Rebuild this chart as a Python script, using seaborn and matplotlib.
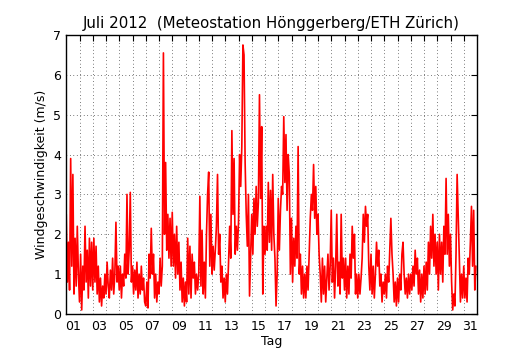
import numpy as np
import pandas as pd
import matplotlib
matplotlib.use("Agg")
import matplotlib.pyplot as plt
import seaborn as sns
from matplotlib.ticker import FixedLocator, NullFormatter, FixedFormatter

# wind speed (m/s), 2-hourly readings per day (00h, 02h, ..., 22h)
jul01 = [2.5, 0.8, 1.8, 0.6, 3.9, 1.2, 3.5, 0.5, 1.9, 0.7, 2.2, 1.0]
jul02 = [0.3, 1.5, 0.1, 1.2, 0.6, 2.2, 0.8, 1.6, 0.4, 1.9, 0.7, 1.8]
jul03 = [0.6, 1.9, 0.8, 1.7, 0.5, 1.2, 0.3, 0.9, 0.2, 0.7, 0.4, 1.0]
jul04 = [0.5, 1.3, 0.7, 0.4, 1.1, 0.6, 1.4, 0.5, 1.0, 2.3, 0.8, 1.2]
jul05 = [0.6, 1.2, 0.4, 1.0, 0.7, 1.5, 0.9, 3.0, 1.0, 1.6, 3.05, 0.8]
jul06 = [1.2, 0.5, 1.1, 0.6, 1.3, 0.4, 1.0, 0.5, 1.2, 0.6, 0.9, 0.3]
jul07 = [0.2, 0.8, 0.15, 1.5, 0.9, 2.15, 1.0, 1.5, 0.4, 1.0, 0.3, 0.8]
jul08 = [0.5, 1.4, 0.7, 1.2, 6.55, 2.0, 3.8, 1.6, 2.5, 1.4, 2.4, 1.2]
jul09 = [2.55, 1.2, 2.0, 0.9, 2.2, 1.0, 1.8, 0.6, 1.3, 0.3, 0.9, 0.2]
jul10 = [0.8, 0.3, 1.9, 0.5, 1.7, 0.4, 1.5, 0.9, 1.3, 0.5, 1.0, 0.6]
jul11 = [1.0, 2.95, 0.7, 2.1, 0.5, 1.3, 0.4, 2.0, 3.0, 3.56, 1.2, 2.5]
jul12 = [1.0, 1.7, 1.1, 1.6, 2.2, 3.5, 1.5, 2.0, 0.8, 1.2, 0.4, 0.9]
jul13 = [0.3, 1.0, 0.5, 1.3, 2.2, 1.4, 4.6, 2.5, 3.9, 1.5, 2.2, 1.6]
jul14 = [2.3, 4.0, 3.2, 4.2, 6.75, 6.5, 3.8, 2.5, 1.7, 3.0, 0.45, 1.5]
jul15 = [2.5, 1.5, 2.9, 2.0, 3.2, 2.2, 2.8, 5.5, 2.9, 4.7, 0.5, 2.2]
jul16 = [1.5, 2.2, 1.6, 3.3, 1.8, 3.1, 1.6, 3.5, 2.0, 1.4, 0.2, 1.0]
jul17 = [2.9, 1.6, 2.6, 3.2, 3.0, 4.95, 3.3, 4.5, 2.6, 4.0, 3.5, 1.0]
jul18 = [2.4, 0.8, 1.9, 1.2, 2.2, 1.4, 4.2, 1.0, 1.5, 0.5, 1.2, 0.4]
jul19 = [1.0, 0.4, 1.2, 0.6, 1.5, 2.4, 3.0, 2.6, 3.75, 2.4, 3.2, 2.0]
jul20 = [2.5, 1.5, 1.0, 0.3, 1.4, 0.5, 1.2, 0.3, 0.9, 1.5, 0.6, 1.2]
jul21 = [2.6, 0.8, 1.4, 0.4, 1.2, 2.5, 0.7, 1.3, 0.5, 2.5, 0.9, 1.4]
jul22 = [0.6, 1.4, 0.4, 1.2, 0.5, 1.5, 0.9, 2.2, 1.4, 2.0, 0.5, 1.0]
jul23 = [0.4, 1.0, 0.5, 0.9, 1.4, 2.5, 1.8, 2.7, 2.2, 2.5, 1.2, 0.6]
jul24 = [1.5, 0.5, 1.2, 0.4, 1.0, 1.8, 1.2, 1.6, 0.7, 1.0, 0.3, 0.8]
jul25 = [0.5, 1.0, 0.4, 1.2, 0.8, 1.6, 2.4, 1.5, 1.0, 0.3, 0.8, 0.2]
jul26 = [0.9, 0.3, 1.0, 0.6, 1.5, 1.8, 1.0, 0.5, 0.9, 0.4, 1.0, 0.5]
jul27 = [1.0, 0.6, 1.2, 0.7, 1.6, 1.0, 1.4, 0.5, 1.1, 0.3, 1.0, 0.4]
jul28 = [1.2, 0.5, 1.3, 0.6, 1.8, 1.0, 2.2, 1.4, 2.5, 1.2, 2.0, 1.0]
jul29 = [1.8, 0.6, 2.0, 1.0, 1.8, 0.8, 2.2, 1.5, 3.4, 1.5, 2.5, 1.2]
jul30 = [2.0, 0.8, 0.1, 0.5, 0.2, 1.5, 3.5, 2.5, 1.4, 0.3, 1.0, 0.4]
jul31 = [1.2, 0.4, 0.9, 0.3, 1.4, 1.0, 1.8, 2.7, 1.2, 2.6, 0.6, 1.2]

hours = list(range(0, 24, 2))
day_labels = ["01", "03", "05", "07", "09", "11", "13", "15",
              "17", "19", "21", "23", "25", "27", "29", "31"]

days = [jul01, jul02, jul03, jul04, jul05, jul06, jul07, jul08, jul09, jul10,
        jul11, jul12, jul13, jul14, jul15, jul16, jul17, jul18, jul19, jul20,
        jul21, jul22, jul23, jul24, jul25, jul26, jul27, jul28, jul29, jul30, jul31]

rows = []
for d, vals in enumerate(days):
    for h, v in zip(hours, vals):
        rows.append({"t": d + h / 24.0, "wind": v})
df = pd.DataFrame(rows)

sns.set_style("white")
plt.rcParams["font.family"] = ["DejaVu Sans"]
plt.rcParams["text.color"] = "black"
plt.rcParams["axes.labelcolor"] = "black"
plt.rcParams["xtick.color"] = "black"
plt.rcParams["ytick.color"] = "black"

fig = plt.figure(figsize=(5.3, 3.5), dpi=100, facecolor="white")
ax = fig.add_axes([0.125, 0.103, 0.775, 0.797])
sns.lineplot(data=df, x="t", y="wind", color="red", linewidth=1.2, ax=ax,
             estimator=None)

ax.set_xlim(0, 31)
ax.set_ylim(0, 7)
ax.set_yticks(range(0, 8))
ax.tick_params(axis="y", labelsize=9, direction="in", right=True, length=4,
               colors="black")
ax.xaxis.set_major_locator(FixedLocator(list(range(1, 31))))
ax.xaxis.set_major_formatter(NullFormatter())
ax.xaxis.set_minor_locator(FixedLocator([i + 0.5 for i in range(0, 31, 2)]))
ax.xaxis.set_minor_formatter(FixedFormatter(day_labels))
ax.tick_params(axis="x", which="major", direction="in", top=True, length=4,
               colors="black")
ax.tick_params(axis="x", which="minor", length=0, labelsize=9, pad=4,
               colors="black")
ax.grid(True, which="major", color="black", linewidth=0.5,
        linestyle=(0, (1, 4)))
for s in ax.spines.values():
    s.set_color("black")
    s.set_linewidth(1.0)

ax.set_title("Juli 2012  (Meteostation Hönggerberg/ETH Zürich)", fontsize=10.8,
             pad=5, color="black")
ax.set_xlabel("Tag", fontsize=9, labelpad=2, color="black")
ax.set_ylabel("Windgeschwindigkeit (m/s)", fontsize=9, color="black")

fig.savefig("out.png", dpi=100, facecolor="white")
